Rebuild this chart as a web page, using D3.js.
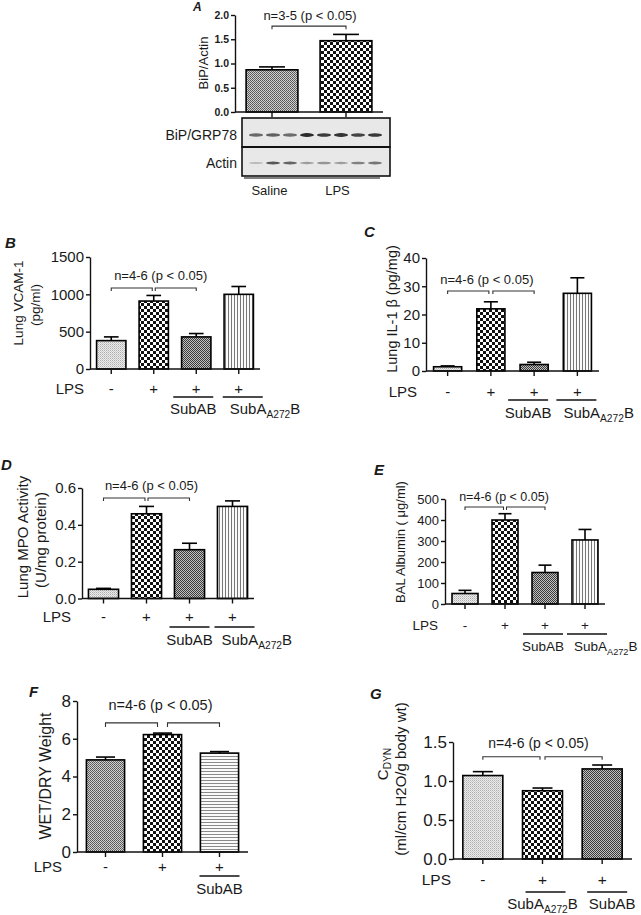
<!DOCTYPE html>
<html><head><meta charset="utf-8">
<script src="https://cdn.jsdelivr.net/npm/d3@7"></script>
<style>
body{margin:0;background:#fff}
svg{display:block}
text{font-family:'Liberation Sans',Arial,Helvetica,sans-serif;fill:#1a1a1a}
</style>
</head><body>
<svg id="c" width="641" height="915"></svg>
<script>
// ================= DATA =================
// Panel A : BiP/Actin densitometry
const aGroups = ["Saline", "LPS"];
const aMeans = [0.87, 1.47];
const aSems  = [0.06, 0.13];
const aTicks = [0, 0.5, 1.0, 1.5, 2.0];
// Western blot lanes (relative band intensity)
const blotLaneGroups = ["Saline","Saline","Saline","LPS","LPS","LPS","LPS","LPS"];
const bipBands   = [0.62, 0.66, 0.60, 0.92, 0.85, 0.88, 0.80, 0.86];
const actinBands = [0.22, 0.70, 0.64, 0.36, 0.40, 0.36, 0.50, 0.56];

// Panels B-E groups
const groups4 = ["Saline", "LPS", "LPS+SubAB", "LPS+SubA272B"];
const lps4    = ["-", "+", "+", "+"];
const treat4  = [null, null, "SubAB", "SubAA272B"];

// B : Lung VCAM-1 (pg/ml)
const bMeans = [380, 910, 430, 1000];
const bSems  = [50, 75, 45, 105];
const bTicks = [0, 500, 1000, 1500];
// C : Lung IL-1 beta (pg/mg)
const cMeans = [1.5, 22, 2.3, 27.5];
const cSems  = [0.3, 2.5, 0.8, 5.5];
const cTicks = [0, 10, 20, 30, 40];
// D : Lung MPO activity (U/mg protein)
const dMeans = [0.05, 0.46, 0.265, 0.50];
const dSems  = [0.005, 0.04, 0.035, 0.03];
const dTicks = [0, 0.2, 0.4, 0.6];
// E : BAL Albumin (ug/ml)
const eMeans = [50, 400, 150, 305];
const eSems  = [15, 30, 35, 50];
const eTicks = [0, 100, 200, 300, 400, 500];
// F : Wet/Dry weight
const fGroups = ["Saline", "LPS", "LPS+SubAB"];
const fLps    = ["-", "+", "+"];
const fTreat  = [null, null, "SubAB"];
const fMeans = [4.88, 6.22, 5.24];
const fSems  = [0.15, 0.08, 0.08];
const fTicks = [0, 2, 4, 6, 8];
// G : Cdyn
const gGroups = ["Saline", "LPS+SubA272B", "LPS+SubAB"];
const gLps    = ["-", "+", "+"];
const gTreat  = [null, "SubAA272B", "SubAB"];
const gMeans = [1.07, 0.875, 1.155];
const gSems  = [0.05, 0.035, 0.05];
const gTicks = [0, 0.5, 1.0, 1.5];

const note46 = "n=4-6 (p < 0.05)";
const note35 = "n=3-5 (p < 0.05)";

// ================= DRAW =================
const FONT = "'Liberation Sans',Arial,Helvetica,sans-serif";
const svg = d3.select("#c");
const defs = svg.append("defs");
function pat(id, w, h, draw) {
  const p = defs.append("pattern").attr("id", id).attr("patternUnits", "userSpaceOnUse")
    .attr("width", w).attr("height", h);
  draw(p);
}
function rc(p, x, y, w, h, f) { p.append("rect").attr("x", x).attr("y", y).attr("width", w).attr("height", h).attr("fill", f); }
pat("light", 2, 2, p => { rc(p,0,0,2,2,"#ececec"); rc(p,0,0,1,1,"#adadad"); rc(p,1,1,1,1,"#cacaca"); });
pat("check", 6, 6, p => { rc(p,0,0,6,6,"#ffffff"); rc(p,0,0,3,3,"#111"); rc(p,3,3,3,3,"#111"); });
pat("dark", 2, 2, p => { rc(p,0,0,2,2,"#c0c0c0"); rc(p,0,0,1,1,"#3c3c3c"); rc(p,1,1,1,1,"#3c3c3c"); });
pat("mid", 2, 2, p => { rc(p,0,0,2,2,"#d0d0d0"); rc(p,0,0,1,1,"#555"); rc(p,1,1,1,1,"#666"); });
pat("vstripe", 3, 3, p => { rc(p,0,0,3,3,"#fafafa"); rc(p,0,0,1,3,"#777"); });
pat("hstripe", 3, 3, p => { rc(p,0,0,3,3,"#fafafa"); rc(p,0,0,3,1,"#8a8a8a"); });
defs.append("filter").attr("id","blur").append("feGaussianBlur").attr("stdDeviation", 0.6);

function treatLabel(g, key, x, y, size, anchor) {
  const t = g.append("text").attr("x", x).attr("y", y).attr("font-size", size).attr("text-anchor", anchor);
  if (key === "SubAB") t.text("SubAB");
  else {
    t.append("tspan").text("SubA");
    t.append("tspan").attr("font-size", size * 0.68).attr("dy", size * 0.28).text("A272");
    t.append("tspan").attr("dy", -size * 0.28).text("B");
  }
}

function drawPanel(c) {
  const g = svg.append("g");
  const n = c.means.length;
  const x = d3.scaleBand().domain(d3.range(n)).range([c.axisX, c.axisEnd])
    .paddingInner(c.pad).paddingOuter(c.pad / 2);
  const y = d3.scaleLinear().domain([0, c.max]).range([c.y0, c.yTop]);
  const cx = i => x(i) + x.bandwidth() / 2;

  // bars
  g.selectAll("rect.bar").data(c.means).join("rect").attr("class", "bar")
    .attr("x", (d, i) => x(i)).attr("y", d => y(d))
    .attr("width", x.bandwidth()).attr("height", d => y(0) - y(d))
    .attr("fill", (d, i) => `url(#${c.fills[i]})`)
    .attr("stroke", "#000").attr("stroke-width", 1.6);
  // error bars (upper SEM)
  const cw = x.bandwidth() * 0.5;
  c.means.forEach((d, i) => {
    g.append("line").attr("x1", cx(i)).attr("x2", cx(i)).attr("y1", y(d)).attr("y2", y(d + c.sems[i]))
      .attr("stroke", "#000").attr("stroke-width", 1.6);
    g.append("line").attr("x1", cx(i) - cw / 2).attr("x2", cx(i) + cw / 2)
      .attr("y1", y(d + c.sems[i])).attr("y2", y(d + c.sems[i]))
      .attr("stroke", "#000").attr("stroke-width", 1.6);
  });
  // y axis
  const ya = g.append("g").attr("transform", `translate(${c.axisX},0)`)
    .call(d3.axisLeft(y).tickValues(c.ticks).tickFormat(c.fmt).tickSize(4).tickSizeOuter(0));
  ya.attr("font-size", c.tickSize).attr("font-family", FONT).attr("font-weight", c.tickBold ? "bold" : null);
  ya.select(".domain").attr("stroke-width", 1.4).attr("stroke", "#111");
  ya.selectAll(".tick line").attr("stroke-width", 1.4).attr("stroke", "#111");
  ya.selectAll(".tick text").attr("fill", "#1a1a1a").attr("x", -6);
  // x axis
  g.append("line").attr("x1", c.axisX).attr("x2", c.axisEnd).attr("y1", c.y0).attr("y2", c.y0)
    .attr("stroke", "#111").attr("stroke-width", 1.4);
  g.selectAll("line.xt").data(d3.range(n)).join("line").attr("class", "xt")
    .attr("x1", i => cx(i)).attr("x2", i => cx(i)).attr("y1", c.y0).attr("y2", c.y0 + 5)
    .attr("stroke", "#111").attr("stroke-width", 1.4);

  // significance brackets
  const by = y(c.bracketY);
  const tk = c.bracketTick || 3;
  const br = (x1, x2) => g.append("path")
    .attr("d", `M${x1},${by + tk}V${by}H${x2}V${by + tk}`)
    .attr("fill", "none").attr("stroke", "#333").attr("stroke-width", 1.1);
  if (n === 2) br(cx(0), cx(1));
  else { br(cx(0), cx(1) - c.gap / 2); br(cx(1) + c.gap / 2, cx(2)); }
  const noteX = (n === 2 ? (cx(0) + cx(1)) / 2 : cx(1)) + c.noteDx;
  g.append("text").attr("x", noteX).attr("y", by + c.noteDy).attr("text-anchor", "middle")
    .attr("font-size", c.noteSize).text(c.note);

  // LPS / treatment rows
  if (c.lps) {
    const ry = c.y0 + c.rowDy;
    g.append("text").attr("x", c.lpsX).attr("y", ry).attr("text-anchor", "end")
      .attr("font-size", c.rowSize).text("LPS");
    g.selectAll("text.sign").data(c.lps).join("text").attr("class", "sign")
      .attr("x", (d, i) => cx(i)).attr("y", ry).attr("text-anchor", "middle")
      .attr("font-size", c.rowSize).text(d => d);
    let k = 0;
    c.treat.forEach((t, i) => {
      if (!t) return;
      const uc = cx(i) + c.ulOff[k];
      const lo = c.labOff ? c.labOff[k] : 0;
      k++;
      const x1 = uc - 20, x2 = uc + 20;
      g.append("line").attr("x1", x1).attr("x2", x2).attr("y1", c.y0 + c.ulDy).attr("y2", c.y0 + c.ulDy)
        .attr("stroke", "#111").attr("stroke-width", 1.4);
      if (t === "SubAB" || c.mutCenter) treatLabel(g, t, uc + lo, c.y0 + c.labDy, c.labSize, "middle");
      else treatLabel(g, t, x1 + 7, c.y0 + c.labDy, c.labSize, "start");
    });
  }
  // y-axis title
  c.ylab.lines.forEach((ln, k) => {
    const t = g.append("text").attr("transform", `translate(${c.ylab.xs[k]},${c.ylab.ys[k]}) rotate(-90)`)
      .attr("text-anchor", "middle").attr("dominant-baseline", "central").attr("font-size", c.ylab.size);
    if (ln === "CDYN") {
      t.append("tspan").text("C");
      t.append("tspan").attr("font-size", c.ylab.size * 0.68).attr("dy", c.ylab.size * 0.3).text("DYN");
    } else t.text(ln);
  });
  // panel letter
  svg.append("text").attr("x", c.letter[0]).attr("y", c.letter[1]).attr("font-weight", "bold")
    .attr("font-style", "italic").attr("font-size", c.letterSize || 15).text(c.id);
  return { x, y };
}

const f1 = d3.format(".1f"), fd = d3.format("d");

// ---- Panel A ----
drawPanel({ id: "A", letter: [193, 11], letterSize: 12, axisX: 235, axisEnd: 383, y0: 112, yTop: 15, max: 2.0,
  ticks: aTicks, fmt: f1, tickSize: 10.5, tickBold: true, means: aMeans, sems: aSems,
  fills: ["mid", "check"], pad: 0.3, bracketY: 1.77, noteDx: 1, noteDy: -6, noteSize: 13, note: note35,
  ylab: { lines: ["BiP/Actin"], xs: [203], ys: [63], size: 13 } });

// Western blot for panel A
(function () {
  const g = svg.append("g");
  const lane = d3.scalePoint().domain(d3.range(blotLaneGroups.length)).range([256, 375]);
  const rows = [{ y0: 118, y1: 147, cy: 135, vals: bipBands, ry: 1.1, name: "BiP/GRP78" },
                { y0: 147, y1: 176, cy: 163, vals: actinBands, ry: 0.9, name: "Actin" }];
  rows.forEach(r => {
    g.append("rect").attr("x", 242).attr("y", r.y0).attr("width", 148).attr("height", r.y1 - r.y0)
      .attr("fill", "#e8e8e8").attr("stroke", "#111").attr("stroke-width", 1.6);
    g.selectAll(null).data(r.vals).join("ellipse")
      .attr("cx", (d, i) => lane(i)).attr("cy", r.cy).attr("rx", 7).attr("ry", d => r.ry + d * 0.9)
      .attr("fill", "#1a1a1a").attr("opacity", d => d).attr("filter", "url(#blur)");
    g.append("text").attr("x", 237).attr("y", r.cy).attr("text-anchor", "end")
      .attr("dominant-baseline", "central").attr("font-size", 14).text(r.name);
  });
  g.append("line").attr("x1", 242).attr("x2", 390).attr("y1", 147).attr("y2", 147).attr("stroke", "#111").attr("stroke-width", 2.2);
  aGroups.forEach(grp => {
    const idx = d3.range(blotLaneGroups.length).filter(i => blotLaneGroups[i] === grp);
    const x1 = lane(idx[0]) - 12, x2 = lane(idx[idx.length - 1]) + 5;
    g.append("line").attr("x1", x1).attr("x2", x2).attr("y1", 178).attr("y2", 178).attr("stroke", "#555").attr("stroke-width", 1.5);
    g.append("text").attr("x", (x1 + x2) / 2).attr("y", 195).attr("text-anchor", "middle").attr("font-size", 13).text(grp);
  });
})();

// ---- Panel B ----
drawPanel({ id: "B", letter: [5, 248], axisX: 90, axisEnd: 260, y0: 369, yTop: 257, max: 1500,
  ticks: bTicks, fmt: fd, tickSize: 15, means: bMeans, sems: bSems,
  fills: ["light", "check", "dark", "vstripe"], pad: 0.31, bracketY: 1085, gap: 3, noteDx: 7, noteDy: -8, noteSize: 13, note: note46,
  lps: lps4, treat: treat4, lpsX: 84, rowDy: 25, rowSize: 15, ulDy: 28, labDy: 45, labSize: 15, ulOff: [-3, 4],
  ylab: { lines: ["Lung VCAM-1", "(pg/ml)"], xs: [18, 35], ys: [303, 305], size: 13.5 } });

// ---- Panel C ----
drawPanel({ id: "C", letter: [364, 237], axisX: 426, axisEnd: 599, y0: 371, yTop: 258, max: 40,
  ticks: cTicks, fmt: fd, tickSize: 15, means: cMeans, sems: cSems,
  fills: ["light", "check", "dark", "vstripe"], pad: 0.35, bracketY: 28.3, gap: 4, noteDx: -4, noteDy: -7, noteSize: 13, note: note46,
  lps: lps4, treat: treat4, lpsX: 417, rowDy: 26, rowSize: 15, ulDy: 29, labDy: 47, labSize: 15, ulOff: [-6, -1],
  ylab: { lines: ["Lung IL-1 \u03B2 (pg/mg)"], xs: [392], ys: [309], size: 14.5 } });

// ---- Panel D ----
drawPanel({ id: "D", letter: [1, 470], axisX: 82, axisEnd: 254, y0: 598.5, yTop: 488, max: 0.6,
  ticks: dTicks, fmt: f1, tickSize: 15, means: dMeans, sems: dSems,
  fills: ["light", "check", "dark", "vstripe"], pad: 0.3, bracketY: 0.546, gap: 3, noteDx: 5, noteDy: -8, noteSize: 13, note: note46,
  lps: lps4, treat: treat4, lpsX: 71, rowDy: 23, rowSize: 15, ulDy: 28.5, labDy: 46, labSize: 15, ulOff: [0, 2],
  ylab: { lines: ["Lung MPO Activity", "(U/mg protein)"], xs: [22, 40], ys: [537, 540], size: 15 } });

// ---- Panel E ----
drawPanel({ id: "E", letter: [374, 475], axisX: 445, axisEnd: 605, y0: 604, yTop: 499, max: 500,
  ticks: eTicks, fmt: fd, tickSize: 13, means: eMeans, sems: eSems,
  fills: ["light", "check", "dark", "vstripe"], pad: 0.35, bracketY: 462, gap: 3, noteDx: -1, noteDy: -6, noteSize: 12.5, note: note46,
  lps: lps4, treat: treat4, lpsX: 438, rowDy: 26, rowSize: 13.5, ulDy: 30, labDy: 47, labSize: 13.5, ulOff: [-2, 2],
  ylab: { lines: ["BAL Albumin ( \u03BCg/ml)"], xs: [400], ys: [542], size: 13 } });

// ---- Panel F ----
drawPanel({ id: "F", letter: [29, 697], axisX: 77, axisEnd: 248, y0: 852, yTop: 701, max: 8,
  ticks: fTicks, fmt: fd, tickSize: 17, means: fMeans, sems: fSems,
  fills: ["mid", "check", "hstripe"], pad: 0.33, bracketY: 6.84, bracketTick: 4, gap: 10, noteDx: -2, noteDy: -13, noteSize: 14.5, note: note46,
  lps: fLps, treat: fTreat, lpsX: 62, rowDy: 20, rowSize: 15, ulDy: 24, labDy: 42, labSize: 15, ulOff: [0],
  ylab: { lines: ["WET/DRY Weight"], xs: [45], ys: [776], size: 16 } });

// ---- Panel G ----
drawPanel({ id: "G", letter: [370, 699], axisX: 453, axisEnd: 632, y0: 859, yTop: 742, max: 1.5,
  ticks: gTicks, fmt: f1, tickSize: 17, means: gMeans, sems: gSems,
  fills: ["light", "check", "dark"], pad: 0.33, bracketY: 1.31, gap: 5, noteDx: -4, noteDy: -9, noteSize: 14, note: note46,
  lps: gLps, treat: gTreat, lpsX: 451, rowDy: 26, rowSize: 15.5, ulDy: 33, labDy: 50, labSize: 15, mutCenter: true,
  ulOff: [3, 5], labOff: [-3, 5],
  ylab: { lines: ["CDYN", "(ml/cm H2O/g body wt)"], xs: [382, 400], ys: [764, 779], size: 15 } });
</script>
</body></html>
